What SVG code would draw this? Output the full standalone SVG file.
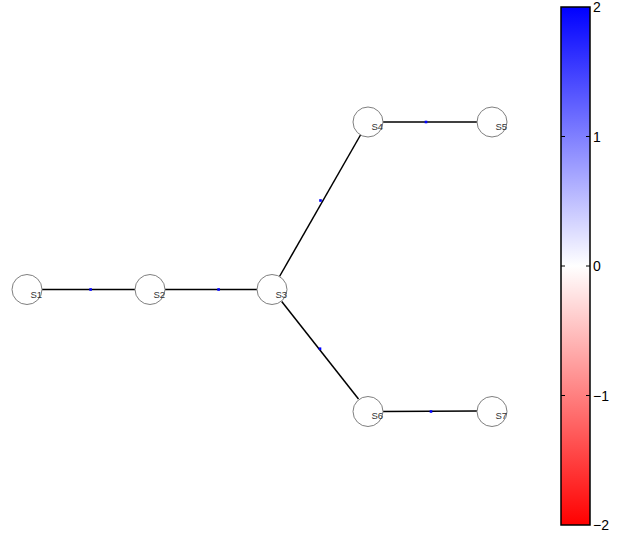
<svg xmlns="http://www.w3.org/2000/svg" width="622" height="535" viewBox="0 0 622 535">
<defs>
<linearGradient id="cmap" x1="0" y1="0" x2="0" y2="1">
<stop offset="0" stop-color="#0000ff"/>
<stop offset="0.5" stop-color="#ffffff"/>
<stop offset="1" stop-color="#ff0000"/>
</linearGradient>
</defs>
<style>
.node circle{fill:#ffffff;stroke:#7f7f7f;stroke-width:1}
.node text{font-family:"Liberation Sans",Arial,sans-serif;font-size:9.5px;fill:#333333}
.edge{stroke:#000000;stroke-width:1.5;fill:none}
.dot{fill:#0000ff}
.tick{stroke:#000000;stroke-width:1}
.tl{font-family:"Liberation Sans",Arial,sans-serif;font-size:14px;fill:#000000}
</style>
<rect width="622" height="535" fill="#ffffff"/>
<g id="connectors">
<line class="edge" x1="42" y1="289.5" x2="135" y2="289.5"/>
<line class="edge" x1="165" y1="289.5" x2="257" y2="289.5"/>
<line class="edge" x1="279.5" y1="276.5" x2="360.5" y2="135"/>
<line class="edge" x1="383" y1="122" x2="477" y2="122"/>
<line class="edge" x1="281.7" y1="301.5" x2="358.5" y2="399"/>
<line class="edge" x1="383" y1="411.5" x2="477" y2="411"/>
<rect class="dot" x="89.3" y="288.2" width="2.6" height="2.6"/>
<rect class="dot" x="217.3" y="288.2" width="2.6" height="2.6"/>
<rect class="dot" x="319.2" y="199.2" width="2.6" height="2.6"/>
<rect class="dot" x="424.7" y="120.7" width="2.6" height="2.6"/>
<rect class="dot" x="318.7" y="347.4" width="2.6" height="2.6"/>
<rect class="dot" x="429.7" y="410.2" width="2.6" height="2.6"/>
</g>
<g id="S1" class="node"><circle cx="27" cy="289.5" r="15"/><text x="30.5" y="297.5">S1</text></g>
<g id="S2" class="node"><circle cx="150" cy="289.5" r="15"/><text x="153.5" y="297.5">S2</text></g>
<g id="S3" class="node"><circle cx="272" cy="289.5" r="15"/><text x="275.5" y="297.5">S3</text></g>
<g id="S4" class="node"><circle cx="368" cy="122" r="15"/><text x="371.5" y="130">S4</text></g>
<g id="S5" class="node"><circle cx="492" cy="122" r="15"/><text x="495.5" y="130">S5</text></g>
<g id="S6" class="node"><circle cx="368" cy="411.5" r="15"/><text x="371.5" y="419">S6</text></g>
<g id="S7" class="node"><circle cx="492" cy="411.5" r="15"/><text x="495.5" y="419">S7</text></g>
<g id="colorbar">
<rect x="561" y="7" width="29" height="518" fill="url(#cmap)" stroke="#000000" stroke-width="1.5"/>
<path class="tick" d="M561 136.5h4M586 136.5h4M561 266h4M586 266h4M561 395.5h4M586 395.5h4"/>
<text class="tl" x="593" y="12">2</text>
<text class="tl" x="593" y="141.5">1</text>
<text class="tl" x="593" y="271">0</text>
<text class="tl" x="593" y="400.5">−1</text>
<text class="tl" x="593" y="530">−2</text>
</g>
</svg>
